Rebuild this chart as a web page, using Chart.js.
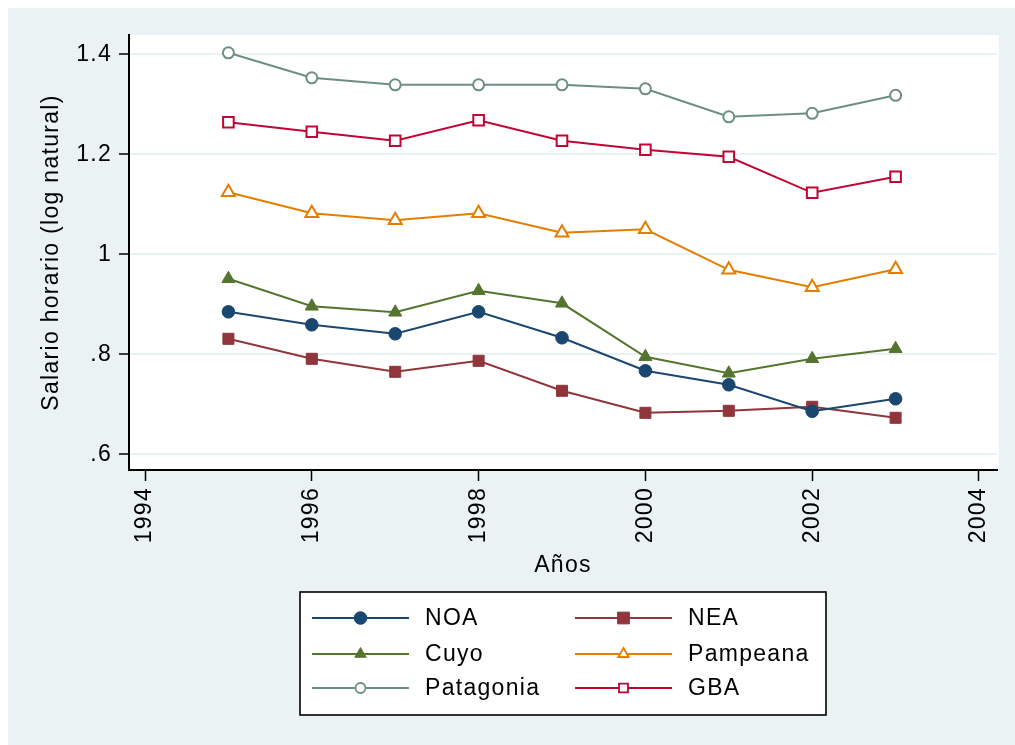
<!DOCTYPE html>
<html lang="es">
<head>
<meta charset="UTF-8">
<script src="https://cdn.jsdelivr.net/npm/chart.js@4.4.1/dist/chart.umd.min.js"></script>
<title>Salario horario por region</title>
<style>
  html, body { margin: 0; padding: 0; background: #ffffff; }
  #wrap { width: 1015px; height: 745px; }
</style>
</head>
<body>
<div id="wrap"><canvas id="myChart" width="1015" height="745"></canvas></div>
<script>
// data
var years = [1995, 1996, 1997, 1998, 1999, 2000, 2001, 2002, 2003];
var noa       = [0.885, 0.859, 0.841, 0.885, 0.833, 0.767, 0.739, 0.686, 0.711];
var nea       = [0.831, 0.791, 0.765, 0.787, 0.727, 0.683, 0.687, 0.695, 0.673];
var cuyo      = [0.951, 0.896, 0.884, 0.927, 0.902, 0.795, 0.762, 0.791, 0.811];
var pampeana  = [1.124, 1.082, 1.068, 1.082, 1.043, 1.050, 0.969, 0.934, 0.970];
var patagonia = [1.403, 1.353, 1.339, 1.339, 1.339, 1.331, 1.275, 1.282, 1.318];
var gba       = [1.264, 1.245, 1.227, 1.268, 1.227, 1.209, 1.195, 1.123, 1.155];

var xTicks = [1994, 1996, 1998, 2000, 2002, 2004];
var yTicks = [0.6, 0.8, 1, 1.2, 1.4];
var yTickLabels = ['.6', '.8', '1', '1.2', '1.4'];

var FONT = '"Liberation Sans", Arial, sans-serif';
var SPACING = '1.3px';

function pts(arr) {
    return arr.map(function (v, i) { return { x: years[i], y: v }; });
}

function series(label, arr, color, style, hollow, radius, legendRadius) {
    return {
        label: label,
        data: pts(arr),
        borderColor: color,
        backgroundColor: color,
        borderWidth: 2,
        pointStyle: style,
        pointRadius: radius,
        pointHoverRadius: radius,
        pointBackgroundColor: hollow ? '#ffffff' : color,
        pointBorderColor: color,
        pointBorderWidth: hollow ? 2 : 1,
        hollow: hollow,
        legendRadius: legendRadius,
        tension: 0
    };
}

var datasets = [
    series('NOA', noa, '#1a476f', 'circle', false, 6.3, 6.3),
    series('NEA', nea, '#90353b', 'rect', false, 7.8, 8.3),
    series('Cuyo', cuyo, '#55752f', 'triangle', false, 7.5, 6.5),
    series('Pampeana', pampeana, '#e37e00', 'triangle', true, 7.5, 6),
    series('Patagonia', patagonia, '#6e8e84', 'circle', true, 5.5, 5),
    series('GBA', gba, '#c10534', 'rect', true, 7.5, 6.3)
];

// background panel + white plot region (also sets letter spacing for all text)
var bgPlugin = {
    id: 'bgPlugin',
    beforeInit: function (chart) { chart.ctx.letterSpacing = SPACING; },
    beforeUpdate: function (chart) { chart.ctx.letterSpacing = SPACING; },
    beforeDraw: function (chart) {
        var ctx = chart.ctx, a = chart.chartArea;
        ctx.letterSpacing = SPACING;
        ctx.fillStyle = '#ffffff';
        ctx.fillRect(0, 0, chart.width, chart.height);
        ctx.fillStyle = '#eaf2f3';
        ctx.fillRect(8, 8, chart.width - 8, chart.height - 8);
        ctx.fillStyle = '#ffffff';
        ctx.fillRect(a.left, a.top, a.right - a.left + 2, a.bottom - a.top);
    }
};

function drawMarker(ctx, style, x, y, r, color, hollow) {
    ctx.save();
    ctx.beginPath();
    if (style === 'circle') {
        ctx.arc(x, y, r, 0, Math.PI * 2);
    } else if (style === 'rect') {
        var s = r * Math.SQRT1_2;
        ctx.rect(x - s, y - s, 2 * s, 2 * s);
    } else {
        ctx.moveTo(x, y - r);
        ctx.lineTo(x + r * Math.sin(Math.PI * 2 / 3), y + r / 2);
        ctx.lineTo(x - r * Math.sin(Math.PI * 2 / 3), y + r / 2);
        ctx.closePath();
    }
    ctx.fillStyle = hollow ? '#ffffff' : color;
    ctx.fill();
    ctx.strokeStyle = color;
    ctx.lineWidth = hollow ? 1.8 : 1;
    ctx.stroke();
    ctx.restore();
}

// boxed two-column legend under the plot
var boxLegend = {
    id: 'boxLegend',
    afterDraw: function (chart) {
        var ctx = chart.ctx;
        var box = { x: 300, y: 592, w: 526, h: 123 };
        ctx.save();
        ctx.letterSpacing = SPACING;
        ctx.fillStyle = '#ffffff';
        ctx.fillRect(box.x, box.y, box.w, box.h);
        ctx.strokeStyle = '#000000';
        ctx.lineWidth = 1.6;
        ctx.strokeRect(box.x, box.y, box.w, box.h);
        var rows = [618, 654, 688];
        var cols = [{ l: 312, r: 409, t: 425 }, { l: 575, r: 672, t: 688 }];
        chart.data.datasets.forEach(function (ds, i) {
            var c = cols[i % 2], y = rows[Math.floor(i / 2)];
            ctx.strokeStyle = ds.borderColor;
            ctx.lineWidth = 2;
            ctx.beginPath();
            ctx.moveTo(c.l, y);
            ctx.lineTo(c.r, y);
            ctx.stroke();
            drawMarker(ctx, ds.pointStyle, (c.l + c.r) / 2, y, ds.legendRadius, ds.borderColor, ds.hollow);
            ctx.fillStyle = '#000000';
            ctx.font = '23px ' + FONT;
            ctx.textBaseline = 'middle';
            ctx.textAlign = 'left';
            ctx.fillText(ds.label, c.t, y + 1);
        });
        ctx.restore();
    }
};

var chart = new Chart(document.getElementById('myChart').getContext('2d'), {
    type: 'line',
    data: { datasets: datasets },
    plugins: [bgPlugin, boxLegend],
    options: {
        responsive: false,
        animation: false,
        devicePixelRatio: 1,
        layout: { padding: { left: 0, top: 35, right: 18, bottom: 0 } },
        plugins: {
            legend: { display: false },
            tooltip: { enabled: false }
        },
        scales: {
            x: {
                type: 'linear',
                min: 1993.808,
                max: 2004.216,
                afterBuildTicks: function (scale) {
                    scale.ticks = xTicks.map(function (v) { return { value: v }; });
                },
                afterFit: function (scale) { scale.height = 275; },
                ticks: {
                    minRotation: 90,
                    maxRotation: 90,
                    padding: 6,
                    color: '#000000',
                    font: { family: FONT, size: 23 },
                    callback: function (v) { return String(v); }
                },
                grid: {
                    drawOnChartArea: false,
                    drawTicks: true,
                    tickLength: 11,
                    tickColor: '#000000',
                    tickWidth: 1.5
                },
                border: { color: '#000000', width: 2 },
                title: {
                    display: true,
                    text: 'Años',
                    color: '#000000',
                    font: { family: FONT, size: 23 },
                    padding: { top: 0, bottom: 166 }
                }
            },
            y: {
                min: 0.5686,
                max: 1.4386,
                afterBuildTicks: function (scale) {
                    scale.ticks = yTicks.map(function (v) { return { value: v }; });
                },
                afterFit: function (scale) { scale.width = 129; },
                ticks: {
                    padding: 7,
                    color: '#000000',
                    font: { family: FONT, size: 23 },
                    callback: function (v, i) { return yTickLabels[i]; }
                },
                grid: {
                    color: '#eaf2f3',
                    lineWidth: 2,
                    tickLength: 10,
                    tickColor: '#000000',
                    tickWidth: 1.5
                },
                border: { color: '#000000', width: 2 },
                title: {
                    display: true,
                    text: 'Salario horario (log natural)',
                    color: '#000000',
                    font: { family: FONT, size: 23 },
                    padding: { top: 38, bottom: 0 }
                }
            }
        }
    }
});
</script>
</body>
</html>
